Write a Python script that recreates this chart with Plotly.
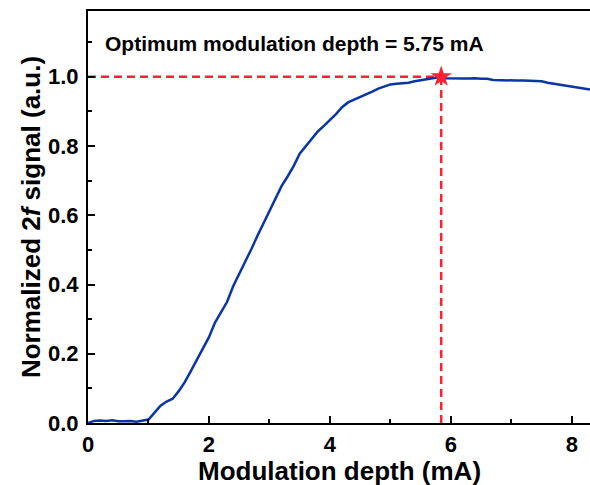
import plotly.graph_objects as go

depth_mA = [0.0, 0.1, 0.2, 0.3, 0.4, 0.5, 0.6, 0.7, 0.8, 0.9,
            1.0, 1.1, 1.2, 1.3, 1.4, 1.5, 1.6, 1.7, 1.8, 1.9,
            2.0, 2.1, 2.2, 2.3, 2.4, 2.5, 2.6, 2.7, 2.8, 2.9,
            3.0, 3.1, 3.2, 3.3, 3.4, 3.5, 3.6, 3.7, 3.8, 3.9,
            4.0, 4.1, 4.2, 4.3, 4.4, 4.5, 4.6, 4.7, 4.8, 4.9,
            5.0, 5.1, 5.2, 5.3, 5.4, 5.5, 5.6, 5.7, 5.8, 5.84, 5.9,
            6.0, 6.1, 6.2, 6.3, 6.4, 6.5, 6.6, 6.7, 6.8, 6.9,
            7.0, 7.1, 7.2, 7.3, 7.4, 7.5, 7.6, 7.7, 7.8, 7.9,
            8.0, 8.1, 8.2, 8.3]
signal_2f = [0.000, 0.006, 0.007, 0.006, 0.008, 0.005, 0.005, 0.006, 0.004, 0.006,
             0.010, 0.030, 0.050, 0.062, 0.070, 0.092, 0.118, 0.150, 0.182, 0.212,
             0.248, 0.290, 0.322, 0.350, 0.395, 0.430, 0.465, 0.502, 0.540, 0.576,
             0.612, 0.648, 0.684, 0.712, 0.742, 0.778, 0.800, 0.822, 0.842, 0.858,
             0.874, 0.892, 0.912, 0.926, 0.934, 0.941, 0.948, 0.957, 0.966, 0.973,
             0.978, 0.980, 0.981, 0.983, 0.987, 0.991, 0.993, 0.996, 0.999, 1.000, 0.996,
             0.995, 0.994, 0.995, 0.995, 0.996, 0.994, 0.994, 0.991, 0.990, 0.991,
             0.990, 0.989, 0.989, 0.988, 0.988, 0.987, 0.983, 0.980, 0.977, 0.974,
             0.970, 0.967, 0.964, 0.963]

optimum_x = [5.84]
optimum_y = [1.0]
annotation_text = "Optimum modulation depth = 5.75 mA"
x_title = "Modulation depth (mA)"
y_title = "Normalized 2<i>f</i> signal (a.u.)"

x_range = [0, 8.3]
y_range = [0, 1.19]

RED = "#ff2030"
BLUE = "#0a35a5"
FONT = "Liberation Sans"

fig = go.Figure()

# dashed guide lines
fig.add_trace(go.Scatter(
    x=[x_range[0], optimum_x[0]], y=[optimum_y[0], optimum_y[0]],
    mode="lines", line=dict(color=RED, width=2.5, dash="8px,5px"),
    showlegend=False, hoverinfo="skip"))
fig.add_trace(go.Scatter(
    x=[optimum_x[0], optimum_x[0]], y=[y_range[0], optimum_y[0]],
    mode="lines", line=dict(color=RED, width=2.5, dash="8px,5px"),
    showlegend=False, hoverinfo="skip"))

# signal curve
fig.add_trace(go.Scatter(
    x=depth_mA, y=signal_2f, mode="lines",
    line=dict(color=BLUE, width=2.5), showlegend=False))

# optimum star
fig.add_trace(go.Scatter(
    x=optimum_x, y=optimum_y, mode="markers",
    marker=dict(symbol="star", size=16, color=RED, line=dict(width=0)),
    showlegend=False, cliponaxis=False))

fig.add_annotation(
    x=0.24, y=1.096, xref="x", yref="y", text="<b>" + annotation_text + "</b>",
    showarrow=False, xanchor="left", yanchor="middle",
    font=dict(family=FONT, size=21, color="black"))

# x-axis title (as annotation for exact placement)
fig.add_annotation(
    x=0.5, y=0, xref="paper", yref="paper", yshift=-31,
    text="<b>" + x_title + "</b>", showarrow=False,
    xanchor="center", yanchor="top",
    font=dict(family=FONT, size=26, color="black"))

axis_common = dict(
    showline=True, linecolor="black", linewidth=2.2,
    ticks="inside", ticklen=7, tickwidth=2, tickcolor="black",
    showgrid=False, zeroline=False, automargin=False,
    tickfont=dict(family=FONT, size=22, color="black", weight="bold"),
)

fig.update_xaxes(
    range=x_range, dtick=2, tick0=0, mirror=True, ticklabelstandoff=0,
    minor=dict(dtick=1, ticks="inside", ticklen=4, tickwidth=2, tickcolor="black"),
    **axis_common)
fig.update_yaxes(
    range=y_range, dtick=0.2, tick0=0, tickformat=".1f", ticklabelstandoff=3,
    minor=dict(dtick=0.1, ticks="inside", ticklen=4, tickwidth=2, tickcolor="black"),
    title=dict(text="<b>" + y_title + "</b>", standoff=0,
               font=dict(family=FONT, size=26, color="black")),
    **axis_common)

fig.update_layout(
    width=590, height=485,
    margin=dict(l=88, r=0, t=11, b=62),
    paper_bgcolor="white", plot_bgcolor="white",
)

fig.write_html("out.html",
               config={"displayModeBar": False},
               post_script="document.body.style.margin='0';document.body.style.overflow='hidden';")
